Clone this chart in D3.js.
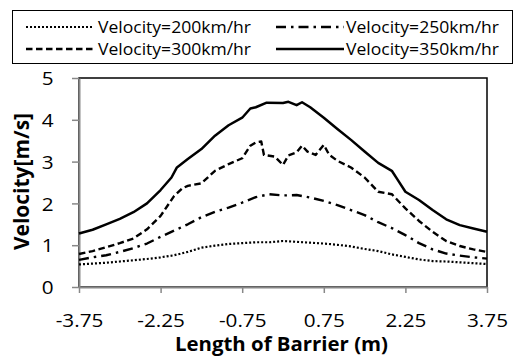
<!DOCTYPE html>
<html>
<head>
<meta charset="utf-8">
<script src="https://cdn.jsdelivr.net/npm/d3@7"></script>
<style>
  html, body { margin: 0; padding: 0; background: #fff; }
  svg { display: block; }
</style>
</head>
<body>
<svg id="chart" width="513" height="356"></svg>
<script>
// Barrier positions (m) and velocity readings (m/s) for each train speed
const x200 = [-3.75,-3.5,-3.25,-3.0,-2.75,-2.5,-2.25,-2.0,-1.75,-1.5,-1.25,-1.0,-0.75,-0.5,-0.25,0,0.25,0.5,0.75,1.0,1.25,1.5,1.75,2.0,2.25,2.5,2.75,3.0,3.25,3.5,3.75];
const v200 = [0.54,0.56,0.58,0.61,0.64,0.67,0.71,0.76,0.84,0.94,0.99,1.03,1.05,1.07,1.07,1.10,1.08,1.06,1.04,1.01,0.97,0.91,0.86,0.78,0.72,0.66,0.62,0.61,0.59,0.57,0.55];

const x250 = [-3.75,-3.5,-3.25,-3.0,-2.75,-2.5,-2.25,-2.0,-1.75,-1.5,-1.25,-1.0,-0.75,-0.5,-0.25,0,0.25,0.5,0.75,1.0,1.25,1.5,1.75,2.0,2.25,2.5,2.75,3.0,3.25,3.5,3.75];
const v250 = [0.65,0.71,0.76,0.84,0.93,1.04,1.20,1.35,1.50,1.67,1.80,1.90,2.02,2.15,2.22,2.19,2.20,2.14,2.06,1.96,1.84,1.72,1.55,1.41,1.24,1.05,0.90,0.80,0.75,0.71,0.68];

const x300 = [-3.75,-3.5,-3.25,-3.0,-2.75,-2.5,-2.25,-2.0,-1.85,-1.75,-1.5,-1.25,-1.0,-0.75,-0.6,-0.5,-0.4,-0.35,-0.15,0,0.1,0.25,0.35,0.45,0.6,0.75,0.85,1.0,1.25,1.5,1.75,2.0,2.25,2.5,2.75,3.0,3.25,3.5,3.75];
const v300 = [0.79,0.86,0.95,1.05,1.16,1.38,1.70,2.18,2.36,2.42,2.48,2.78,2.94,3.08,3.38,3.46,3.48,3.16,3.12,2.92,3.15,3.22,3.38,3.24,3.16,3.40,3.16,3.02,2.86,2.62,2.28,2.22,1.88,1.58,1.32,1.10,0.98,0.90,0.84];

const x350 = [-3.75,-3.5,-3.25,-3.0,-2.75,-2.5,-2.25,-2.05,-1.95,-1.75,-1.5,-1.25,-1.0,-0.75,-0.6,-0.5,-0.3,0,0.1,0.25,0.35,0.5,0.75,1.0,1.25,1.5,1.75,2.0,2.1,2.25,2.5,2.75,3.0,3.25,3.5,3.75];
const v350 = [1.28,1.37,1.50,1.63,1.79,2.00,2.32,2.62,2.86,3.06,3.30,3.62,3.87,4.05,4.27,4.30,4.41,4.40,4.43,4.35,4.42,4.30,4.05,3.78,3.52,3.24,2.97,2.78,2.58,2.28,2.08,1.84,1.62,1.48,1.40,1.32];

const seriesNames = ["Velocity=200km/hr","Velocity=250km/hr","Velocity=300km/hr","Velocity=350km/hr"];
const xTickValues = [-3.75,-2.25,-0.75,0.75,2.25,3.75];
const xTickLabels = ["-3.75","-2.25","-0.75","0.75","2.25","3.75"];
const yTickValues = [0,1,2,3,4,5];
const yTickLabels = ["0","1","2","3","4","5"];
const xTitle = "Length of Barrier (m)";
const yTitle = "Velocity[m/s]";

const FONT = "'Open Sans', sans-serif";
const SX = 1.12; // horizontal stretch for tick labels

const svg = d3.select("#chart");
const plot = { left: 79, right: 487, top: 78, bottom: 287 };

const x = d3.scaleLinear().domain([-3.75, 3.75]).range([plot.left, plot.right]);
const y = d3.scaleLinear().domain([0, 5]).range([plot.bottom, plot.top]);

const styles = [
  { dash: "2,2", width: 2.2 },
  { dash: "10,5,2.5,5", width: 2.4 },
  { dash: "6.5,3.5", width: 2.4 },
  { dash: null, width: 2.5 }
];

const series = [
  { xs: x200, vs: v200 },
  { xs: x250, vs: v250 },
  { xs: x300, vs: v300 },
  { xs: x350, vs: v350 }
];

// Text fitted to a given run length
function label(g, px, py, str, size, weight, anchor, len, rotate) {
  const t = g.append("text")
    .attr("transform", `translate(${px},${py})` + (rotate ? ` rotate(${rotate})` : ""))
    .attr("text-anchor", anchor)
    .style("font-family", FONT)
    .style("font-size", size + "px")
    .style("font-weight", weight)
    .attr("fill", "#000")
    .text(str);
  if (len) t.attr("textLength", len).attr("lengthAdjust", "spacingAndGlyphs");
  return t;
}

// Plot area frame
svg.append("rect")
  .attr("x", plot.left).attr("y", plot.top)
  .attr("width", plot.right - plot.left).attr("height", plot.bottom - plot.top)
  .attr("fill", "none").attr("stroke", "#000").attr("stroke-width", 1.5);

// Axes
const xAxis = svg.append("g")
  .attr("transform", `translate(0,${plot.bottom})`)
  .call(d3.axisBottom(x).tickValues(xTickValues).tickSize(6).tickSizeOuter(0)
    .tickFormat((d, i) => xTickLabels[i]));
xAxis.select(".domain").attr("stroke", "#888").attr("stroke-width", 2);
xAxis.selectAll(".tick line").attr("stroke", "#888").attr("stroke-width", 1.5);
xAxis.selectAll(".tick text")
  .attr("y", 0).attr("dy", null)
  .attr("text-anchor", "middle")
  .attr("transform", `translate(0,39.5) scale(${SX},1)`)
  .style("font-family", FONT).style("font-size", "18.5px").attr("fill", "#000");

const yAxis = svg.append("g")
  .attr("transform", `translate(${plot.left},0)`)
  .call(d3.axisLeft(y).tickValues(yTickValues).tickSize(7).tickSizeOuter(0)
    .tickFormat((d, i) => yTickLabels[i]));
yAxis.select(".domain").attr("stroke", "#888").attr("stroke-width", 2);
yAxis.selectAll(".tick line").attr("stroke", "#888").attr("stroke-width", 1.5);
yAxis.selectAll(".tick text")
  .attr("x", 0).attr("dy", "0.36em")
  .attr("text-anchor", "end")
  .attr("transform", `translate(-25.5,0) scale(${SX},1)`)
  .style("font-family", FONT).style("font-size", "18.5px").attr("fill", "#000");

// Series lines
const line = d3.line().x(d => x(d[0])).y(d => y(d[1]));
series.forEach((s, i) => {
  const pts = s.xs.map((xv, j) => [xv, s.vs[j]]);
  svg.append("path")
    .datum(pts)
    .attr("d", line)
    .attr("fill", "none")
    .attr("stroke", "#000")
    .attr("stroke-width", styles[i].width)
    .attr("stroke-dasharray", styles[i].dash)
    .attr("stroke-linejoin", "round");
});

// Axis titles
label(svg, 175, 351, xTitle, 20, "bold", "start", 213);
label(svg, 29, 250, yTitle, 20.5, "bold", "start", 137, -90);

// Legend
const leg = svg.append("g");
leg.append("rect")
  .attr("x", 12.5).attr("y", 10.5).attr("width", 500).attr("height", 53)
  .attr("fill", "#fff").attr("stroke", "#000").attr("stroke-width", 1);
const legPos = [
  { lx: 26, ly: 27, tx: 98 }, { lx: 276, ly: 27, tx: 346 },
  { lx: 26, ly: 49, tx: 98 }, { lx: 276, ly: 49, tx: 346 }
];
seriesNames.forEach((name, i) => {
  const p = legPos[i];
  leg.append("line")
    .attr("x1", p.lx).attr("x2", p.lx + 68)
    .attr("y1", p.ly).attr("y2", p.ly)
    .attr("stroke", "#000")
    .attr("stroke-width", styles[i].width)
    .attr("stroke-dasharray", styles[i].dash);
  label(leg, p.tx, p.ly + 6, name, 16.5, "normal", "start", 153);
});
</script>
</body>
</html>
